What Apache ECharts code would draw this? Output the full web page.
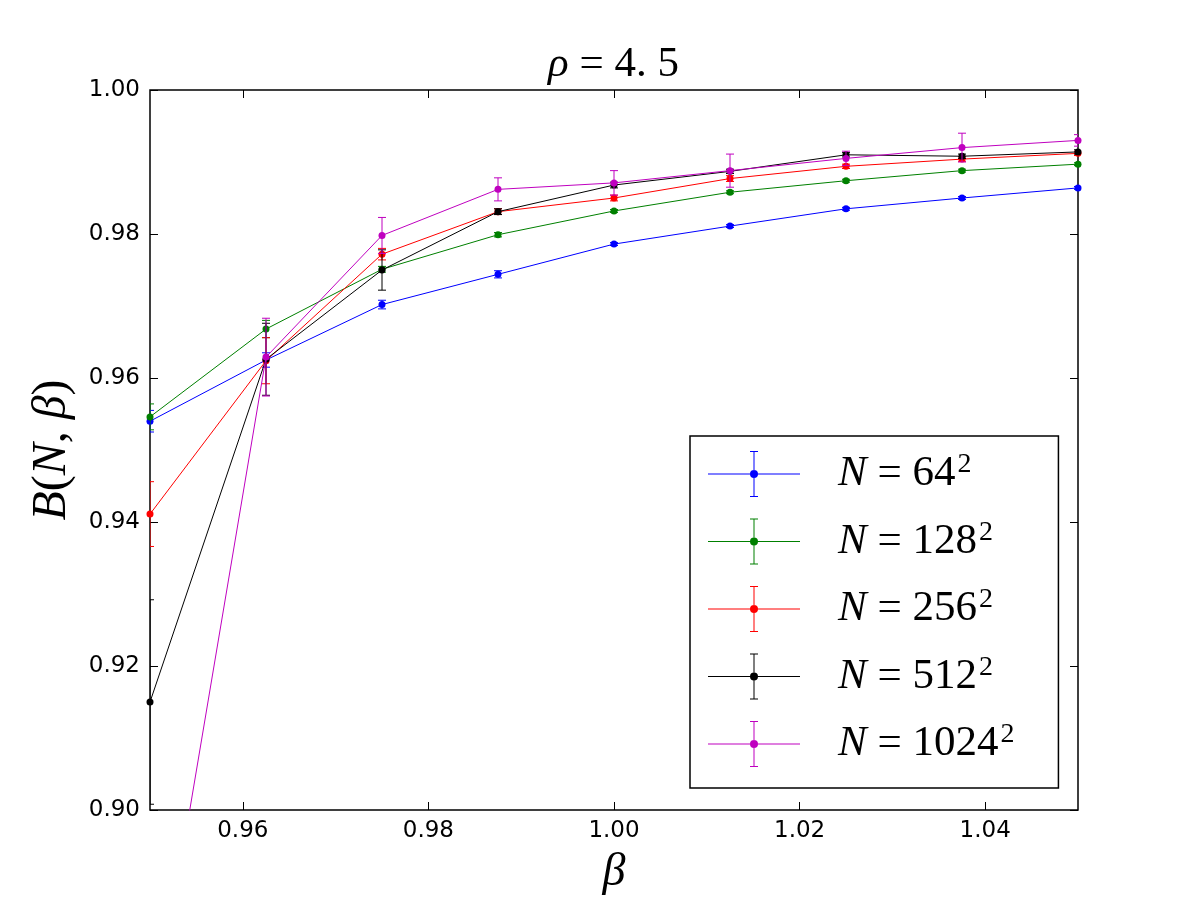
<!DOCTYPE html>
<html>
<head>
<meta charset="utf-8">
<script src="https://cdn.jsdelivr.net/npm/echarts@6/dist/echarts.min.js"></script>
<style>
  html, body { margin: 0; padding: 0; background: #fff; }
  #chart { width: 1200px; height: 900px; }
</style>
</head>
<body>
<div id="chart"></div>
<script>
// beta values (x)
var betas = [0.95, 0.9625, 0.975, 0.9875, 1.0, 1.0125, 1.025, 1.0375, 1.05];

var names = ["N = 64", "N = 128", "N = 256", "N = 512", "N = 1024"];
var colors = ["#0000ff", "#008000", "#ff0000", "#000000", "#bf00bf"];

// B(N, beta) for each lattice size
var b64   = [0.9540, 0.9625, 0.9702, 0.9744, 0.9786, 0.9811, 0.9835, 0.9850, 0.9864];
var b128  = [0.9546, 0.9668, 0.9751, 0.9799, 0.9832, 0.9858, 0.9874, 0.9888, 0.9897];
var b256  = [0.9411, 0.9624, 0.9772, 0.9831, 0.9850, 0.9877, 0.9894, 0.9904, 0.9912];
var b512  = [0.9150, 0.9626, 0.9750, 0.9831, 0.9868, 0.9887, 0.9910, 0.9908, 0.9914];
var b1024 = [0.8672, 0.9629, 0.9798, 0.9862, 0.9871, 0.9888, 0.9905, 0.9920, 0.9930];

// error bar half widths
var e64   = [0.0015, 0.0010, 0.0006, 0.0005, 0.0002, 0.0002, 0.0002, 0.0002, 0.0002];
var e128  = [0.0018, 0.0012, 0.0004, 0.0003, 0.0002, 0.0002, 0.0002, 0.0002, 0.0002];
var e256  = [0.0045, 0.0032, 0.0008, 0.0004, 0.0004, 0.0004, 0.0003, 0.0003, 0.0003];
var e512  = [0.0142, 0.0050, 0.0028, 0.0004, 0.0004, 0.0003, 0.0003, 0.0003, 0.0003];
var e1024 = [0.0060, 0.0054, 0.0025, 0.0016, 0.0017, 0.0023, 0.0010, 0.0020, 0.0008];

var xTicks = [0.96, 0.98, 1.00, 1.02, 1.04];

var values = [b64, b128, b256, b512, b1024];
var errors = [e64, e128, e256, e512, e1024];

var chart = echarts.init(document.getElementById("chart"));

function errorItem(params, api) {
  var x = api.value(0);
  var lo = api.coord([x, api.value(1)]);
  var hi = api.coord([x, api.value(2)]);
  var half = 4;
  var style = { stroke: api.visual("color"), lineWidth: 1 };
  return {
    type: "group",
    children: [
      { type: "line", shape: { x1: lo[0], y1: lo[1], x2: hi[0], y2: hi[1] }, style: style },
      { type: "line", shape: { x1: lo[0] - half, y1: lo[1], x2: lo[0] + half, y2: lo[1] }, style: style },
      { type: "line", shape: { x1: hi[0] - half, y1: hi[1], x2: hi[0] + half, y2: hi[1] }, style: style }
    ]
  };
}

var series = [];
values.forEach(function(vals, k) {
  series.push({
    name: names[k] + "_err",
    type: "custom",
    renderItem: errorItem,
    itemStyle: { color: colors[k] },
    encode: { x: 0, y: [1, 2] },
    clip: true,
    silent: true,
    z: 2 + k * 2,
    data: betas.map(function(b, i) {
      return [b, vals[i] - errors[k][i], vals[i] + errors[k][i]];
    })
  });
  series.push({
    name: names[k],
    type: "line",
    symbol: "circle",
    symbolSize: 7,
    showSymbol: true,
    clip: true,
    z: 3 + k * 2,
    itemStyle: { color: colors[k] },
    lineStyle: { color: colors[k], width: 1 },
    data: betas.map(function(b, i) { return [b, vals[i]]; })
  });
});

// legend icon: line + error bar + dot (92 x 46 box)
var icon = "path://M0,22.5h92v1h-92Z M45.5,0h1v46h-1Z M42,0h8v1h-8Z M42,45h8v1h-8Z " +
  "M42,23a4,4 0 1,1 8,0a4,4 0 1,1 -8,0Z";

var sup = { "N = 64": "64", "N = 128": "128", "N = 256": "256", "N = 512": "512", "N = 1024": "1024" };

var tickFont = { color: "#000", fontFamily: "DejaVu Sans", fontSize: 23 };

var option = {
  backgroundColor: "#fff",
  animation: false,
  title: {
    text: "{i|ρ} = 4. 5",
    left: 543,
    top: 38,
    textStyle: {
      fontFamily: "Liberation Serif",
      fontSize: 43,
      color: "#000",
      fontWeight: "normal",
      rich: {
        i: { fontFamily: "Liberation Serif", fontStyle: "italic", fontSize: 43, color: "#000" }
      }
    }
  },
  grid: {
    left: 150, right: 122, top: 90, bottom: 90,
    outerBoundsMode: "none",
    containLabel: false,
    show: true, borderColor: "#000", borderWidth: 1.5, backgroundColor: "transparent"
  },
  legend: {
    data: names.map(function(n) { return { name: n, icon: icon }; }),
    orient: "vertical",
    left: 690,
    top: 436,
    itemWidth: 92,
    itemHeight: 46,
    itemGap: 19.5,
    padding: [15, 44, 19, 18],
    borderColor: "#000",
    borderWidth: 1.5,
    backgroundColor: "#fff",
    selectedMode: false,
    formatter: function(n) {
      return "{i|N} = " + sup[n] + "{s|2}";
    },
    textStyle: {
      color: "#000",
      fontFamily: "Liberation Serif",
      fontSize: 43,
      padding: [0, 0, 0, 33],
      rich: {
        i: { fontFamily: "Liberation Serif", fontStyle: "italic", fontSize: 43, color: "#000", lineHeight: 46 },
        s: { fontFamily: "Liberation Serif", fontSize: 28, color: "#000", verticalAlign: "top", lineHeight: 46, padding: [0, 0, 20, 2] }
      }
    }
  },
  xAxis: [{
    type: "value",
    min: 0.95,
    max: 1.05,
    position: "bottom",
    name: "{i|β}",
    nameLocation: "middle",
    nameGap: 40,
    nameTextStyle: {
      rich: { i: { fontFamily: "Liberation Serif", fontStyle: "italic", fontSize: 46, color: "#000" } }
    },
    splitLine: { show: false },
    axisLine: { show: false },
    axisTick: { inside: true, length: 8, lineStyle: { color: "#000" }, customValues: xTicks },
    axisLabel: Object.assign({ margin: 10, customValues: xTicks,
      formatter: function(v) { return v.toFixed(2); } }, tickFont)
  }, {
    type: "value",
    min: 0.95,
    max: 1.05,
    position: "top",
    splitLine: { show: false },
    axisLine: { show: false },
    axisTick: { inside: true, length: 8, lineStyle: { color: "#000" }, customValues: xTicks },
    axisLabel: { show: false }
  }],
  yAxis: [{
    type: "value",
    min: 0.90,
    max: 1.00,
    interval: 0.02,
    position: "left",
    name: "{i|B}({i|N}, {i|β})",
    nameLocation: "middle",
    nameRotate: 90,
    nameGap: 74,
    nameTextStyle: {
      fontFamily: "Liberation Serif",
      fontSize: 48,
      color: "#000",
      rich: { i: { fontFamily: "Liberation Serif", fontStyle: "italic", fontSize: 48, color: "#000" } }
    },
    splitLine: { show: false },
    axisLine: { show: false },
    axisTick: { inside: true, length: 8, lineStyle: { color: "#000" } },
    axisLabel: Object.assign({ margin: 10,
      formatter: function(v) { return v.toFixed(2); } }, tickFont)
  }, {
    type: "value",
    min: 0.90,
    max: 1.00,
    interval: 0.02,
    position: "right",
    splitLine: { show: false },
    axisLine: { show: false },
    axisTick: { inside: true, length: 8, lineStyle: { color: "#000" } },
    axisLabel: { show: false }
  }],
  series: series
};

chart.setOption(option);
</script>
</body>
</html>
